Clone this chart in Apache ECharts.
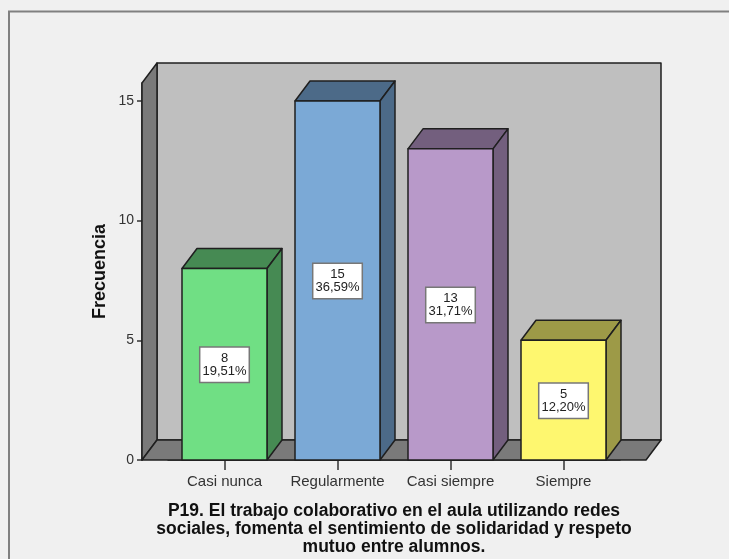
<!DOCTYPE html>
<html><head><meta charset="utf-8">
<style>html,body{margin:0;padding:0;background:#f0f0f0}#c{width:729px;height:559px}</style>
<script src="https://cdn.jsdelivr.net/npm/echarts@6/dist/echarts.min.js"></script></head>
<body><div id="c"></div>
<script>
const categories = ['Casi nunca','Regularmente','Casi siempre','Siempre'];
const frequencies = [8,15,13,5];
const percents = ['19,51%','36,59%','31,71%','12,20%'];
const frontColors = ['#70DF84','#7BA9D6','#B899C9','#FEF76F'];
const sideColors = ['#468A53','#4C6A88','#735F7E','#9D9A47'];
const yTicks = [0,5,10,15];
const yMax = 15.75;
const titleLines = ['P19. El trabajo colaborativo en el aula utilizando redes','sociales, fomenta el sentimiento de solidaridad y respeto','mutuo entre alumnos.'];
const DX = 15, DY = 20, PAD = 26, LINE = '#1f1f1f';

function poly(points, fill, z2){
  return {type:'polygon', z2:z2||0, shape:{points}, style:{fill, stroke:LINE, lineWidth:1.5, lineJoin:'round'}};
}
const chart = echarts.init(document.getElementById('c'), null, {renderer:'canvas'});
chart.setOption({
  animation:false,
  backgroundColor:'#f0f0f0',
  grid:{left:168,right:109,top:83,bottom:99},
  title:{text:titleLines.join('\n'),left:394,top:502,padding:0,textAlign:'center',
    textStyle:{fontFamily:'Liberation Sans',fontSize:17.5,fontWeight:'bold',color:'#111',lineHeight:18,align:'center'}},
  graphic:[{type:'polyline',silent:true,z:-1,shape:{points:[[9,559],[9,11.5],[729,11.5]]},style:{fill:null,stroke:'#808080',lineWidth:2}}],
  xAxis:{type:'category',data:categories,
    axisLine:{show:true,lineStyle:{color:LINE,width:1.5}},
    axisTick:{show:true,alignWithLabel:true,length:10,lineStyle:{color:'#333',width:1.5}},
    axisLabel:{color:'#333',fontFamily:'Liberation Sans',fontSize:15,margin:14,interval:0}},
  yAxis:{type:'value',min:0,max:yMax,interval:5,offset:PAD,splitLine:{show:false},
    name:'Frecuencia',nameLocation:'middle',nameGap:33,nameRotate:90,nameMoveOverlap:false,
    nameTextStyle:{fontFamily:'Liberation Sans',fontSize:18,fontWeight:'bold',color:'#111'},
    axisLine:{show:true,lineStyle:{color:LINE,width:1.5}},
    axisTick:{show:true,length:5,customValues:yTicks,lineStyle:{color:'#333',width:1.5}},
    axisLabel:{color:'#333',fontFamily:'Liberation Sans',fontSize:14,margin:8,customValues:yTicks}},
  series:[
    {type:'custom',z:1,silent:true,data:[0],renderItem(p,api){
      const r=p.coordSys, x0=r.x-PAD, x1=r.x+r.width+PAD, y0=r.y+r.height, yt=r.y;
      return {type:'group',children:[
        poly([[x0+DX,yt-DY],[x1+DX,yt-DY],[x1+DX,y0-DY],[x0+DX,y0-DY]],'#BFBFBF'),
        poly([[x0,yt],[x0+DX,yt-DY],[x0+DX,y0-DY],[x0,y0]],'#7A7A7A'),
        poly([[x0,y0],[x0+DX,y0-DY],[x1+DX,y0-DY],[x1,y0]],'#7A7A7A')
      ]};
    }},
    {type:'custom',z:2,silent:true,data:frequencies.map((v,i)=>[i,v]),
     encode:{x:0,y:1},
     renderItem(p,api){
      const i=api.value(0), v=api.value(1);
      const top=api.coord([i,v]), base=api.coord([i,0]);
      const bw=api.size([1,0])[0]*0.7522, L=top[0]-bw/2, R=top[0]+bw/2, T=top[1], B=base[1];
      return {type:'group',children:[
        poly([[L,T],[L+DX,T-DY],[R+DX,T-DY],[R,T]],sideColors[i]),
        poly([[R,T],[R+DX,T-DY],[R+DX,B-DY],[R,B]],sideColors[i]),
        poly([[L,T],[R,T],[R,B],[L,B]],frontColors[i]),
        {type:'text',z2:5,x:top[0],y:(T+B)/2+0.5,style:{text:v+'\n'+percents[i],align:'center',verticalAlign:'middle',
          font:'13px "Liberation Sans"',fill:'#222',lineHeight:13,backgroundColor:'#fff',borderColor:'#777',borderWidth:1.5,padding:[4,2,4,2]}}
      ]};
    }}
  ]
});
</script></body></html>
